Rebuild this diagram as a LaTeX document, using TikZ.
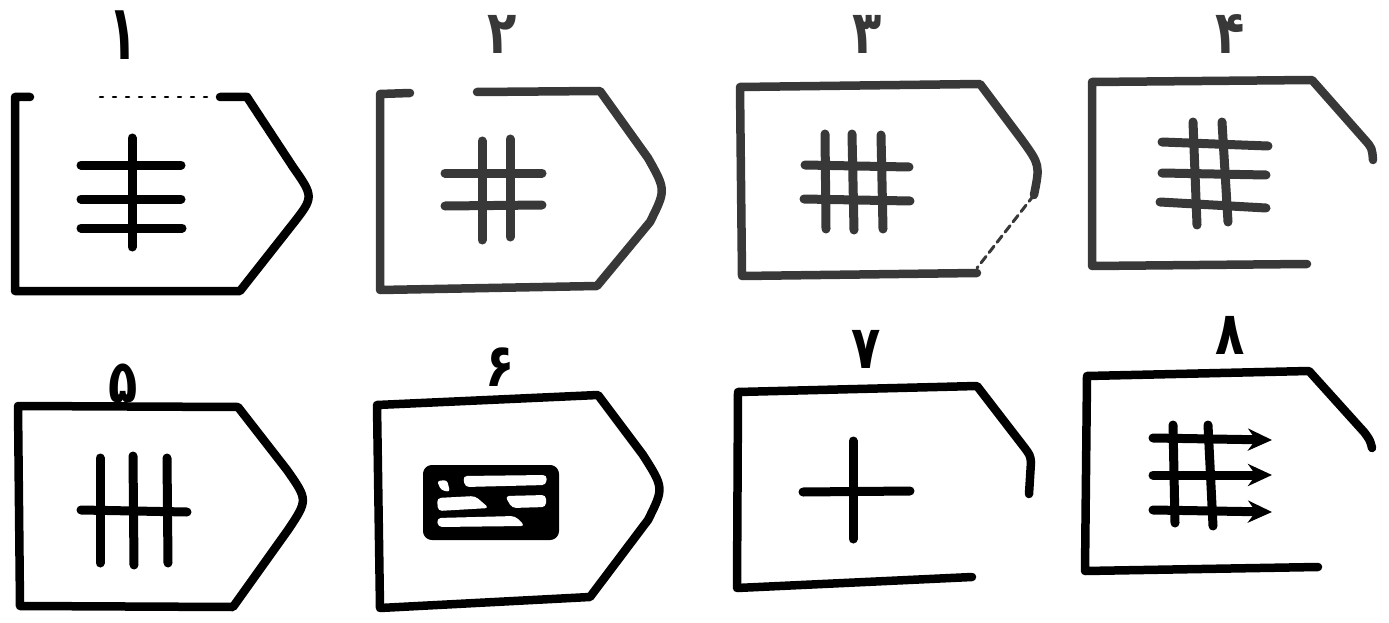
\documentclass[tikz,border=0pt]{standalone}
\usepackage{fontspec}
\newfontfamily\arabicfont[Script=Arabic]{DejaVu Sans}
\usetikzlibrary{arrows.meta}
\definecolor{ink}{gray}{0.0}
\definecolor{inkgray}{gray}{0.22}
\newcommand{\tallnum}[1]{\scalebox{1}[1.25]{#1}}
\begin{document}
\begin{tikzpicture}[x=1pt,y=-1pt,line join=round,line cap=round,
  outline/.style={line width=8.5pt},
  stroke/.style={line width=9pt},
  faint/.style={line width=2.5pt,dash pattern=on 3pt off 10pt},
  num/.style={font=\arabicfont\bfseries\fontsize{48}{54}\selectfont,inner sep=0pt,anchor=base},
  arrowend/.style={-{Stealth[length=24pt,width=22pt]}}]
\useasboundingbox (0,0) rectangle (1389,623);
% ---------- tag 1 ----------
\begin{scope}[draw=ink]
\draw[outline] (30,97) -- (15,97) -- (15,291) -- (240,291) -- (292,225)
  .. controls (314,197) .. (293,167) -- (247,97) -- (220,97);
\draw[faint] (100,97) -- (215,97);
\draw[stroke] (132,138) -- (132,247);
\draw[stroke] (81,165) -- (181,165);
\draw[stroke] (81,199) -- (181,199);
\draw[stroke] (81,228) -- (182,228);
\node[num] (n1) at (123,60) {\scalebox{1}[1.6]{۱}};
\end{scope}
% ---------- tag 2 ----------
\begin{scope}[draw=inkgray,text=inkgray]
\draw[outline] (477,92) -- (600,91) -- (648,158)
  .. controls (666,190) .. (650,222) -- (597,286) -- (380,290) -- (380,94) -- (410,93);
\draw[stroke] (482,141) -- (482,240);
\draw[stroke] (510,139) -- (510,237);
\draw[stroke] (445,173) -- (542,173);
\draw[stroke] (445,206) -- (542,205);
\node[num] (n2) at (502,54) {\tallnum{۲}};
\end{scope}
% ---------- tag 3 ----------
\begin{scope}[draw=inkgray,text=inkgray]
\draw[outline] (977,273) -- (742,276) -- (740,87) -- (980,84) -- (1022,140)
  .. controls (1040,165) .. (1034,195);
\draw[line width=3pt,dash pattern=on 8pt off 5pt] (1034,195) -- (977,268);
\draw[stroke] (825,134) -- (826,229);
\draw[stroke] (852,134) -- (854,230);
\draw[stroke] (881,135) -- (883,229);
\draw[stroke] (805,165) -- (909,167);
\draw[stroke] (804,199) -- (910,201);
\node[num] (n3) at (867,54) {\tallnum{۳}};
\end{scope}
% ---------- tag 4 ----------
\begin{scope}[draw=inkgray,text=inkgray]
\draw[outline] (1373,160) .. controls (1372,148) .. (1365,140) -- (1312,80) -- (1092,82)
  -- (1092,266) -- (1307,264);
\draw[stroke] (1193,122) -- (1197,225);
\draw[stroke] (1222,122) -- (1228,222);
\draw[stroke] (1162,142) -- (1268,146);
\draw[stroke] (1162,173) -- (1266,175);
\draw[stroke] (1160,202) -- (1266,208);
\node[num] (n4) at (1230,54) {\tallnum{۴}};
\end{scope}
% ---------- tag 5 ----------
\begin{scope}[draw=ink]
\draw[outline] (18,406) -- (238,407) -- (287,470)
  .. controls (308,500) .. (288,530) -- (233,607) -- (20,606) -- (18,406);
\draw[stroke] (100,458) -- (100,563);
\draw[stroke] (133,456) -- (134,565);
\draw[stroke] (167,458) -- (168,563);
\draw[stroke] (81,510) -- (187,512);
\node[num] (n5) at (123,402) {\tallnum{۵}};
\end{scope}
% ---------- tag 6 ----------
\begin{scope}[draw=ink]
\draw[outline] (377,405) -- (598,395) -- (643,455)
  .. controls (664,488) .. (648,520) -- (590,597) -- (380,608) -- (377,405);
\draw[line width=6pt,fill=ink,rounded corners=6pt] (426,468) rectangle (556,537);
\begin{scope}[fill=white,draw=none]
\fill[rounded corners=3pt] (437,481) -- (447,480) -- (450,492) -- (441,490) -- cycle;
\fill[rounded corners=4pt] (463,476) -- (547,475) -- (546,485) -- (465,487) -- cycle;
\fill[rounded corners=4pt] (437,498) -- (475,496) -- (489,508) -- (438,511) -- cycle;
\fill[rounded corners=4pt] (505,496) -- (546,495) -- (546,507) -- (512,508) -- cycle;
\fill[rounded corners=4pt] (437,518) -- (515,516) -- (525,526) -- (438,527) -- cycle;
\end{scope}
\node[num] (n6) at (500,386) {\tallnum{۶}};
\end{scope}
% ---------- tag 7 ----------
\begin{scope}[draw=ink]
\draw[outline] (1029,494) -- (1031,462) .. controls (1030,455) .. (1024,447) -- (977,386)
  -- (738,392) -- (737,588) -- (972,577);
\draw[stroke] (853,441) -- (853,539);
\draw[stroke] (803,492) -- (910,491);
\node[num] (n7) at (866,368) {\tallnum{۷}};
\end{scope}
% ---------- tag 8 ----------
\begin{scope}[draw=ink,fill=ink]
\draw[outline] (1372,448) .. controls (1370,440) .. (1364,432) -- (1309,371)
  -- (1087,376) -- (1085,571) -- (1318,567);
\draw[stroke] (1173,425) -- (1175,523);
\draw[stroke] (1208,425) -- (1213,526);
\draw[stroke,arrowend] (1153,438) -- (1272,440);
\draw[stroke,arrowend] (1153,475) -- (1272,475);
\draw[stroke,arrowend] (1153,510) -- (1272,512);
\node[num] (n8) at (1230,354) {\tallnum{۸}};
\end{scope}
\end{tikzpicture}
\end{document}
